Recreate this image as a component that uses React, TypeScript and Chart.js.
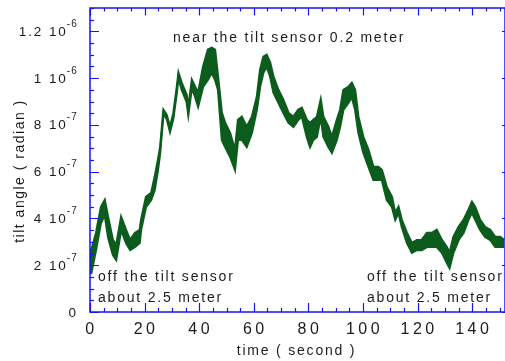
import React, { useEffect, useRef } from 'react';
import { Chart, registerables } from 'chart.js';

Chart.register(...registerables);

// time in seconds
const timeSec = [
  0, 0.5, 2.2, 4.0, 5.4, 6.6, 8.4, 9.6, 11.4, 13.2,
  14.7, 16.4, 18.2, 18.7, 20.5, 22.4, 23.7, 24.9, 25.7, 26.9,
  28.1, 29.3, 30.5, 31.8, 32.4, 33.6, 35.4, 36.0, 37.3, 38.5,
  39.6, 41.4, 43.2, 44.6, 45.8, 46.9, 48.3, 49.5, 51.3, 53.1,
  54.2, 55.6, 57.4, 59.3, 61.1, 62.3, 63.5, 64.7, 66.0, 67.2,
  69.0, 70.8, 72.7, 74.5, 76.3, 77.6, 79.4, 80.6, 81.8, 83.1,
  84.5, 85.5, 87.3, 88.6, 90.4, 91.6, 92.8, 94.7, 95.9, 97.1,
  98.3, 100.1, 102.0, 103.8, 105.6, 106.9, 108.7, 110.6, 111.8, 113.0,
  114.2, 116.1, 117.9, 119.7, 121.5, 123.4, 125.2, 127.0, 128.9, 130.7,
  131.7, 133.1, 135.0, 136.8, 138.6, 139.9, 141.1, 142.9, 144.7, 146.6,
  148.4, 150.2, 151.7,
];

// upper edge of the noisy tilt trace, in units of 1e-7 radian
const tiltUpperE7 = [
  2.7, 2.65, 3.38, 4.49, 4.79, 4.07, 3.08, 2.87, 4.07, 3.51,
  3.08, 3.38, 3.51, 3.94, 4.92, 5.09, 5.78, 6.51, 7.06, 8.65,
  8.43, 7.92, 8.48, 9.63, 10.23, 9.80, 9.29, 8.73, 9.93, 9.63,
  9.38, 10.49, 11.22, 11.30, 11.22, 10.06, 8.52, 8.09, 7.66, 6.93,
  8.22, 8.35, 7.92, 8.35, 9.20, 10.36, 10.92, 11.00, 10.66, 10.06,
  9.50, 9.08, 8.52, 8.35, 8.65, 8.73, 8.22, 8.09, 8.22, 8.35,
  9.08, 8.35, 7.92, 7.49, 8.22, 8.65, 9.50, 9.63, 9.80, 9.50,
  8.35, 7.49, 6.93, 6.21, 6.21, 6.08, 5.35, 4.92, 4.24, 4.49,
  3.94, 3.38, 2.95, 3.08, 3.08, 3.38, 3.38, 3.51, 3.08, 2.78,
  2.53, 3.21, 3.64, 3.94, 4.37, 4.71, 4.49, 3.94, 3.64, 3.51,
  3.21, 3.21, 3.08,
];

// lower edge of the noisy tilt trace, in units of 1e-7 radian
const tiltLowerE7 = [
  1.7, 1.67, 2.65, 3.81, 4.15, 3.21, 2.44, 2.23, 3.51, 2.95,
  2.65, 2.78, 2.95, 3.51, 4.49, 4.79, 5.22, 6.08, 6.81, 8.48,
  8.26, 7.71, 8.26, 9.38, 10.02, 9.50, 8.99, 8.43, 9.59, 9.20,
  8.78, 9.63, 9.93, 10.23, 9.93, 9.50, 7.36, 7.06, 6.64, 6.08,
  7.36, 7.36, 7.06, 7.66, 8.65, 9.63, 10.23, 10.49, 10.06, 9.38,
  8.95, 8.52, 8.09, 7.92, 8.22, 8.35, 7.49, 7.06, 7.36, 7.49,
  8.35, 7.49, 7.06, 6.81, 7.36, 7.92, 8.65, 8.95, 9.20, 8.65,
  7.66, 6.81, 6.21, 5.65, 5.65, 5.65, 4.79, 4.49, 3.94, 4.24,
  3.64, 2.95, 2.53, 2.65, 2.65, 2.78, 2.78, 2.78, 2.53, 2.10,
  1.88, 2.53, 3.08, 3.38, 3.94, 4.24, 3.94, 3.51, 3.21, 3.08,
  2.78, 2.78, 2.78,
];

const xTickValues = [0, 20, 40, 60, 80, 100, 120, 140];
const xTickLabels = ['0', '20', '40', '60', '80', '100', '120', '140'];
const xMinorStep = 5;
const xMax = 152;

const yTickValues = [0, 2, 4, 6, 8, 10, 12];
const yTickMantissa = ['0', '2', '4', '6', '8', '1', '1.2'];
const yTickExponent = ['', '-7', '-7', '-7', '-7', '-6', '-6'];
const yMinorStep = 0.5;
const yMax = 13;

const xTitle = 'time ( second )';
const yTitle = 'tilt angle ( radian )';
const topNote = 'near the tilt sensor 0.2 meter';
const sideNote1 = 'off the tilt sensor';
const sideNote2 = 'about 2.5 meter';

const FONT = '"Liberation Sans", Arial, Helvetica, sans-serif';
const AXIS = '#1414f5';
const TEXT = '#1c1c1c';
const LINE = '#0b5c1d';

function setFont(ctx: CanvasRenderingContext2D, size: number, spacing: number) {
  ctx.font = `${size}px ${FONT}`;
  try {
    (ctx as any).letterSpacing = `${spacing}px`;
  } catch (e) {}
}

const framePlugin = {
  id: 'frameAndText',
  afterDraw(chart: any) {
    const ctx: CanvasRenderingContext2D = chart.ctx;
    const a = chart.chartArea;
    const xs = chart.scales.x;
    const ys = chart.scales.y;
    ctx.save();

    // frame
    ctx.strokeStyle = AXIS;
    ctx.lineWidth = 1.5;
    ctx.strokeRect(a.left, a.top, a.right - a.left, a.bottom - a.top);

    // x ticks (inward, bottom and top)
    ctx.lineWidth = 1.2;
    for (let v = 0; v <= xMax; v += xMinorStep) {
      const px = Math.round(xs.getPixelForValue(v)) + 0.5;
      const major = xTickValues.includes(v);
      ctx.beginPath();
      ctx.moveTo(px, a.bottom);
      ctx.lineTo(px, a.bottom - (major ? 9 : 4));
      ctx.moveTo(px, a.top);
      ctx.lineTo(px, a.top + (major ? 7.5 : 3.5));
      ctx.stroke();
    }
    // y ticks (inward, left; right side only majors)
    for (let v = 0; v <= yMax; v += yMinorStep) {
      const py = Math.round(ys.getPixelForValue(v)) + 0.5;
      const major = yTickValues.includes(v);
      ctx.beginPath();
      ctx.moveTo(a.left, py);
      ctx.lineTo(a.left + (major ? 9 : 4), py);
      if (major) {
        ctx.moveTo(a.right, py);
        ctx.lineTo(a.right - 3, py);
      }
      ctx.stroke();
    }

    ctx.fillStyle = TEXT;
    ctx.textBaseline = 'alphabetic';

    // x tick labels
    setFont(ctx, 16, 3.5);
    ctx.textAlign = 'center';
    xTickValues.forEach((v, i) => {
      const px = xs.getPixelForValue(v);
      ctx.fillText(xTickLabels[i], px + 1.5, 334);
    });

    // y tick labels with superscript exponents
    const rightEdge = 78;
    yTickValues.forEach((v, i) => {
      const py = ys.getPixelForValue(v);
      const exp = yTickExponent[i];
      ctx.textAlign = 'left';
      if (exp) {
        setFont(ctx, 10, 1.2);
        const ew = ctx.measureText(exp).width;
        const ex = rightEdge - ew;
        ctx.fillText(exp, ex, py - 4.5);
        setFont(ctx, 13.5, 1.9);
        const main = yTickMantissa[i] + ' 10';
        const mw = ctx.measureText(main).width;
        ctx.fillText(main, ex - mw + 1, py + 4.5);
      } else {
        setFont(ctx, 13.5, 1.9);
        const main = yTickMantissa[i];
        const mw = ctx.measureText(main).width;
        ctx.fillText(main, rightEdge - mw, py + 4.5);
      }
    });

    // axis titles
    setFont(ctx, 14, 1.8);
    ctx.textAlign = 'center';
    ctx.fillText(xTitle, (a.left + 503) / 2, 355);
    ctx.save();
    ctx.translate(24, 171);
    ctx.rotate(-Math.PI / 2);
    setFont(ctx, 14, 1.5);
    ctx.fillText(yTitle, 0, 0);
    ctx.restore();

    // annotations
    setFont(ctx, 14, 1.8);
    ctx.textAlign = 'left';
    ctx.fillText(topNote, 173, 42);
    ctx.fillText(sideNote1, 98, 281);
    ctx.fillText(sideNote2, 98, 302);
    ctx.fillText(sideNote1, 367, 281);
    ctx.fillText(sideNote2, 367, 302);

    ctx.restore();
  },
};

export default function App() {
  const canvasRef = useRef<HTMLCanvasElement | null>(null);

  useEffect(() => {
    document.body.style.margin = '0';
    const canvas = canvasRef.current;
    if (!canvas) return;
    const upper = timeSec.map((t, i) => ({ x: t, y: tiltUpperE7[i] }));
    const lower = timeSec.map((t, i) => ({ x: t, y: tiltLowerE7[i] }));
    const chart = new Chart(canvas, {
      type: 'line',
      data: {
        datasets: [
          {
            label: 'tilt upper',
            data: upper,
            borderColor: LINE,
            backgroundColor: LINE,
            borderWidth: 2.2,
            pointRadius: 0,
            tension: 0,
            fill: false,
          },
          {
            label: 'tilt lower',
            data: lower,
            borderColor: LINE,
            backgroundColor: LINE,
            borderWidth: 2.2,
            pointRadius: 0,
            tension: 0,
            fill: '-1',
          },
        ],
      },
      options: {
        animation: false,
        responsive: false,
        devicePixelRatio: 1,
        layout: { padding: { left: 90, top: 8, right: 0, bottom: 49 } },
        plugins: {
          legend: { display: false },
          tooltip: { enabled: false },
        },
        scales: {
          x: { type: 'linear', min: 0, max: xMax, display: false },
          y: { type: 'linear', min: 0, max: yMax, display: false },
        },
      },
      plugins: [framePlugin],
    });
    return () => chart.destroy();
  }, []);

  return (
    <div style={{ position: 'absolute', left: 0, top: 0, width: 505, height: 361, background: '#fff' }}>
      <canvas ref={canvasRef} width={505} height={361} style={{ display: 'block' }} />
    </div>
  );
}
